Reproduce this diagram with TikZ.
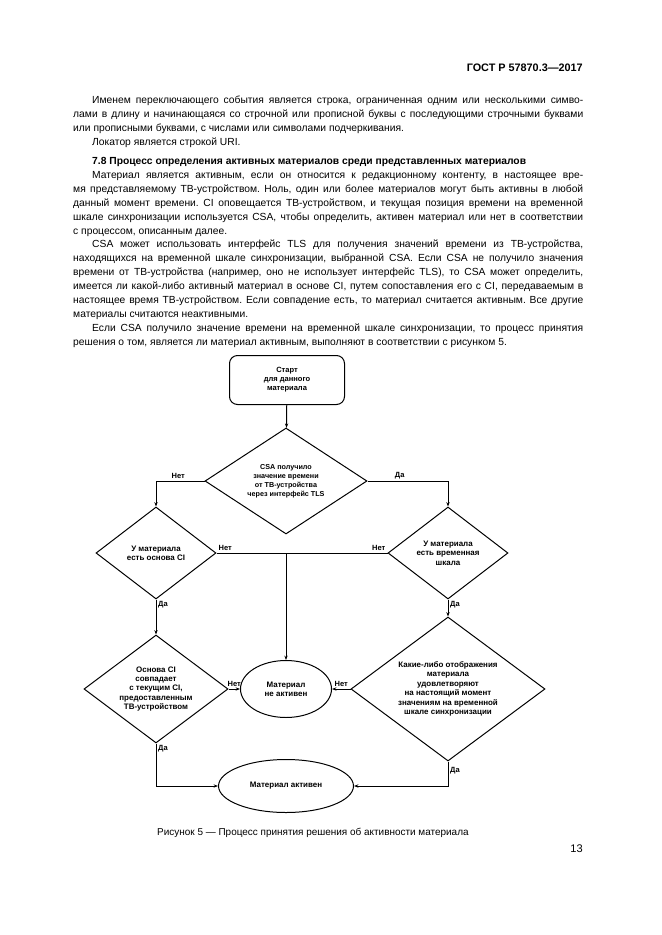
\documentclass[tikz,border=0pt]{standalone}
\usepackage{fontspec}
\setmainfont{Liberation Sans}
\usetikzlibrary{arrows.meta, positioning, shapes.geometric, calc}
\newlength\pxl
\setlength\pxl{0.3177mm}
\setlength\parindent{0pt}
\frenchspacing
\tolerance=10000
\hyphenpenalty=10000
\exhyphenpenalty=10000

\begin{document}
\begin{tikzpicture}[
    x=\pxl, y=-\pxl,
    para/.style={anchor=north west, inner sep=0pt, text width=510\pxl, align=justify,
                 font=\fontsize{9.3}{12.6}\selectfont},
    box/.style={draw, rounded corners=8\pxl, minimum width=115\pxl, minimum height=49\pxl,
                align=center, line width=0.9pt, font=\fontsize{6.8}{8.2}\selectfont\bfseries},
    decision/.style={draw, diamond, inner sep=0pt, align=center, line width=0.9pt,
                font=\fontsize{7.2}{8.5}\selectfont\bfseries},
    state/.style={draw, ellipse, inner sep=0pt, align=center, line width=0.9pt,
                font=\fontsize{7.2}{8.5}\selectfont\bfseries},
    lbl/.style={font=\fontsize{6.8}{8}\selectfont\bfseries, inner sep=1.5pt},
    line/.style={line width=0.9pt},
    arr/.style={-{Stealth[length=4pt, width=3pt]}, line width=0.9pt}
]
    \fill[white] (0,0) rectangle (661,935);
    \useasboundingbox (0,0) rectangle (661,935);

    % page text
    \node[anchor=north east, inner sep=0pt, font=\fontsize{9.8}{12}\selectfont\bfseries] (gost) at (583,64) {ГОСТ Р 57870.3—2017};
    \node[para] (intro) at (73,96) {\hspace*{19\pxl}Именем переключающего события является строка, ограниченная одним или несколькими симво-\linebreak лами в длину и начинающаяся со строчной или прописной буквы с последующими строчными буквами\linebreak или прописными буквами, с числами или символами подчеркивания.\par
        \hspace*{19\pxl}Локатор является строкой URI.};
    \node[anchor=north west, inner sep=0pt, font=\fontsize{9.3}{12.6}\selectfont\bfseries] (head) at (92,157) {7.8 Процесс определения активных материалов среди представленных материалов};
    \node[para] (body) at (73,171) {\hspace*{19\pxl}Материал является активным, если он относится к редакционному контенту, в настоящее вре-\linebreak мя представляемому ТВ-устройством. Ноль, один или более материалов могут быть активны в любой\linebreak данный момент времени. CI оповещается ТВ-устройством, и текущая позиция времени на временной\linebreak шкале синхронизации используется CSA, чтобы определить, активен материал или нет в соответствии\linebreak с процессом, описанным далее.\par
        \hspace*{19\pxl}CSA может использовать интерфейс TLS для получения значений времени из ТВ-устройства,\linebreak находящихся на временной шкале синхронизации, выбранной CSA. Если CSA не получило значения\linebreak времени от ТВ-устройства (например, оно не использует интерфейс TLS), то CSA может определить,\linebreak имеется ли какой-либо активный материал в основе CI, путем сопоставления его с CI, передаваемым в\linebreak настоящее время ТВ-устройством. Если совпадение есть, то материал считается активным. Все другие\linebreak материалы считаются неактивными.\par
        \hspace*{19\pxl}Если CSA получило значение времени на временной шкале синхронизации, то процесс принятия\linebreak решения о том, является ли материал активным, выполняют в соответствии с рисунком 5.};

    % flowchart
    \node[box] (start) at (287,380) {Старт\\для данного\\материала};
    \node[decision, font=\fontsize{6.5}{8}\selectfont\bfseries, minimum width=162\pxl, minimum height=106\pxl, aspect=1.5] (tls) at (286,481) {CSA получило\\значение времени\\от ТВ-устройства\\через интерфейс TLS};
    \node[decision, minimum width=120\pxl, minimum height=92\pxl, aspect=1.3] (base) at (156,553) {У материала\\есть основа CI};
    \node[decision, minimum width=120\pxl, minimum height=92\pxl, aspect=1.3] (tline) at (448,553) {У материала\\есть временная\\шкала};
    \node[decision, minimum width=144\pxl, minimum height=108\pxl, aspect=1.33] (match) at (156,689) {Основа CI\\совпадает\\с текущим CI,\\предоставленным\\ТВ-устройством};
    \node[decision, minimum width=194\pxl, minimum height=144\pxl, aspect=1.35] (show) at (448,689) {Какие-либо отображения\\материала\\удовлетворяют\\на настоящий момент\\значениям на временной\\шкале синхронизации};
    \node[state, minimum width=91\pxl, minimum height=57\pxl] (off) at (286,689) {Материал\\не активен};
    \node[state, minimum width=135\pxl, minimum height=53\pxl] (on) at (286,786) {Материал активен};
    \coordinate (jn) at (tls.south |- base.east);

    \draw[arr] (start) -- (tls);
    \draw[arr] (tls.west) -| node[lbl, above, pos=0.27] {Нет} (base.north);
    \draw[arr] (tls.east) -| node[lbl, above, pos=0.2] {Да} (tline.north);
    \draw[line] (base.east) node[lbl, above right] {Нет} -- (tline.west) node[lbl, above left] {Нет};
    \draw[arr] (jn) -- (off);
    \draw[arr] (base.south) node[lbl, below right] {Да} -- (match.north);
    \draw[arr] (tline.south) node[lbl, below right] {Да} -- (show.north);
    \draw[arr] (match.east) -- node[lbl, above] {Нет} (off.west);
    \draw[arr] (show.west) -- node[lbl, above] {Нет} (off.east);
    \draw[arr] (match.south) node[lbl, below right] {Да} |- (on.west);
    \draw[arr] (show.south) node[lbl, below right, yshift=-4\pxl] {Да} |- (on.east);

    \node[anchor=west, inner sep=0pt, font=\fontsize{9}{11}\selectfont] (cap) at (157,833) {Рисунок 5 — Процесс принятия решения об активности материала};
    \node[anchor=east, inner sep=0pt, font=\fontsize{10}{12}\selectfont] (pnum) at (583,849) {13};
\end{tikzpicture}
\end{document}
